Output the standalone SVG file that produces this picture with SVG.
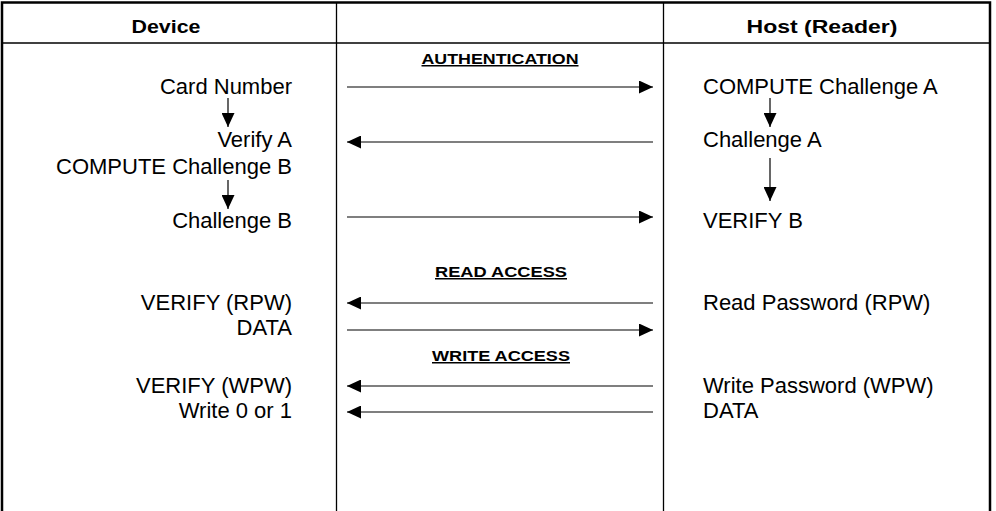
<svg xmlns="http://www.w3.org/2000/svg" width="996" height="511" viewBox="0 0 996 511">
<defs>
<marker id="ah" viewBox="0 0 14 13" refX="14" refY="6.5" markerWidth="14" markerHeight="13" markerUnits="userSpaceOnUse" orient="auto">
<path d="M0,0 L14,6.5 L0,13 Z" fill="#000"/>
</marker>
</defs>
<style>
.t{font-family:"Liberation Sans",Arial,sans-serif;font-size:22px;fill:#000}
.h{font-family:"Liberation Sans",Arial,sans-serif;font-size:18px;font-weight:bold;fill:#000}
.s{font-family:"Liberation Sans",Arial,sans-serif;font-size:15px;font-weight:bold;fill:#000;text-decoration:underline}
.r{text-anchor:end}
.m{text-anchor:middle}
.c{stroke:#000;stroke-width:1.2;fill:none;marker-end:url(#ah)}
.g{stroke:#000;fill:none}
</style>
<rect width="996" height="511" fill="#fff"/>
<g id="frame">
<path class="g" stroke-width="2.5" d="M2,511 V2.5 H990 V511"/>
<line class="g" stroke-width="1.3" x1="2" y1="43" x2="990" y2="43"/>
<line class="g" stroke-width="1.3" x1="336.5" y1="2" x2="336.5" y2="511"/>
<line class="g" stroke-width="1.3" x1="663.5" y1="2" x2="663.5" y2="511"/>
</g>
<g id="headers">
<text class="h m" x="166" y="33" textLength="69" lengthAdjust="spacingAndGlyphs">Device</text>
<text class="h m" x="822" y="33" textLength="151" lengthAdjust="spacingAndGlyphs">Host (Reader)</text>
</g>
<g id="device">
<text class="t r" x="292" y="94">Card Number</text>
<text class="t r" x="292" y="147">Verify A</text>
<text class="t r" x="292" y="174">COMPUTE Challenge B</text>
<text class="t r" x="292" y="228">Challenge B</text>
<text class="t r" x="292" y="310">VERIFY (RPW)</text>
<text class="t r" x="292" y="335">DATA</text>
<text class="t r" x="292" y="393">VERIFY (WPW)</text>
<text class="t r" x="292" y="418">Write 0 or 1</text>
</g>
<g id="host">
<text class="t" x="703" y="94">COMPUTE Challenge A</text>
<text class="t" x="703" y="147">Challenge A</text>
<text class="t" x="703" y="228">VERIFY B</text>
<text class="t" x="703" y="310">Read Password (RPW)</text>
<text class="t" x="703" y="393">Write Password (WPW)</text>
<text class="t" x="703" y="418">DATA</text>
</g>
<g id="labels">
<text class="s m" x="500" y="64" textLength="157" lengthAdjust="spacingAndGlyphs">AUTHENTICATION</text>
<text class="s m" x="501" y="277" textLength="132" lengthAdjust="spacingAndGlyphs">READ ACCESS</text>
<text class="s m" x="501" y="361" textLength="138" lengthAdjust="spacingAndGlyphs">WRITE ACCESS</text>
</g>
<g id="connectors">
<line class="c" x1="228" y1="98" x2="228" y2="127"/>
<line class="c" x1="228" y1="180" x2="228" y2="209"/>
<line class="c" x1="770" y1="98" x2="770" y2="127"/>
<line class="c" x1="770" y1="158" x2="770" y2="201"/>
<line class="c" x1="347" y1="87" x2="653" y2="87"/>
<line class="c" x1="653" y1="142" x2="347" y2="142"/>
<line class="c" x1="347" y1="217" x2="653" y2="217"/>
<line class="c" x1="653" y1="303" x2="347" y2="303"/>
<line class="c" x1="347" y1="330" x2="653" y2="330"/>
<line class="c" x1="653" y1="386" x2="347" y2="386"/>
<line class="c" x1="653" y1="412" x2="347" y2="412"/>
</g>
</svg>
